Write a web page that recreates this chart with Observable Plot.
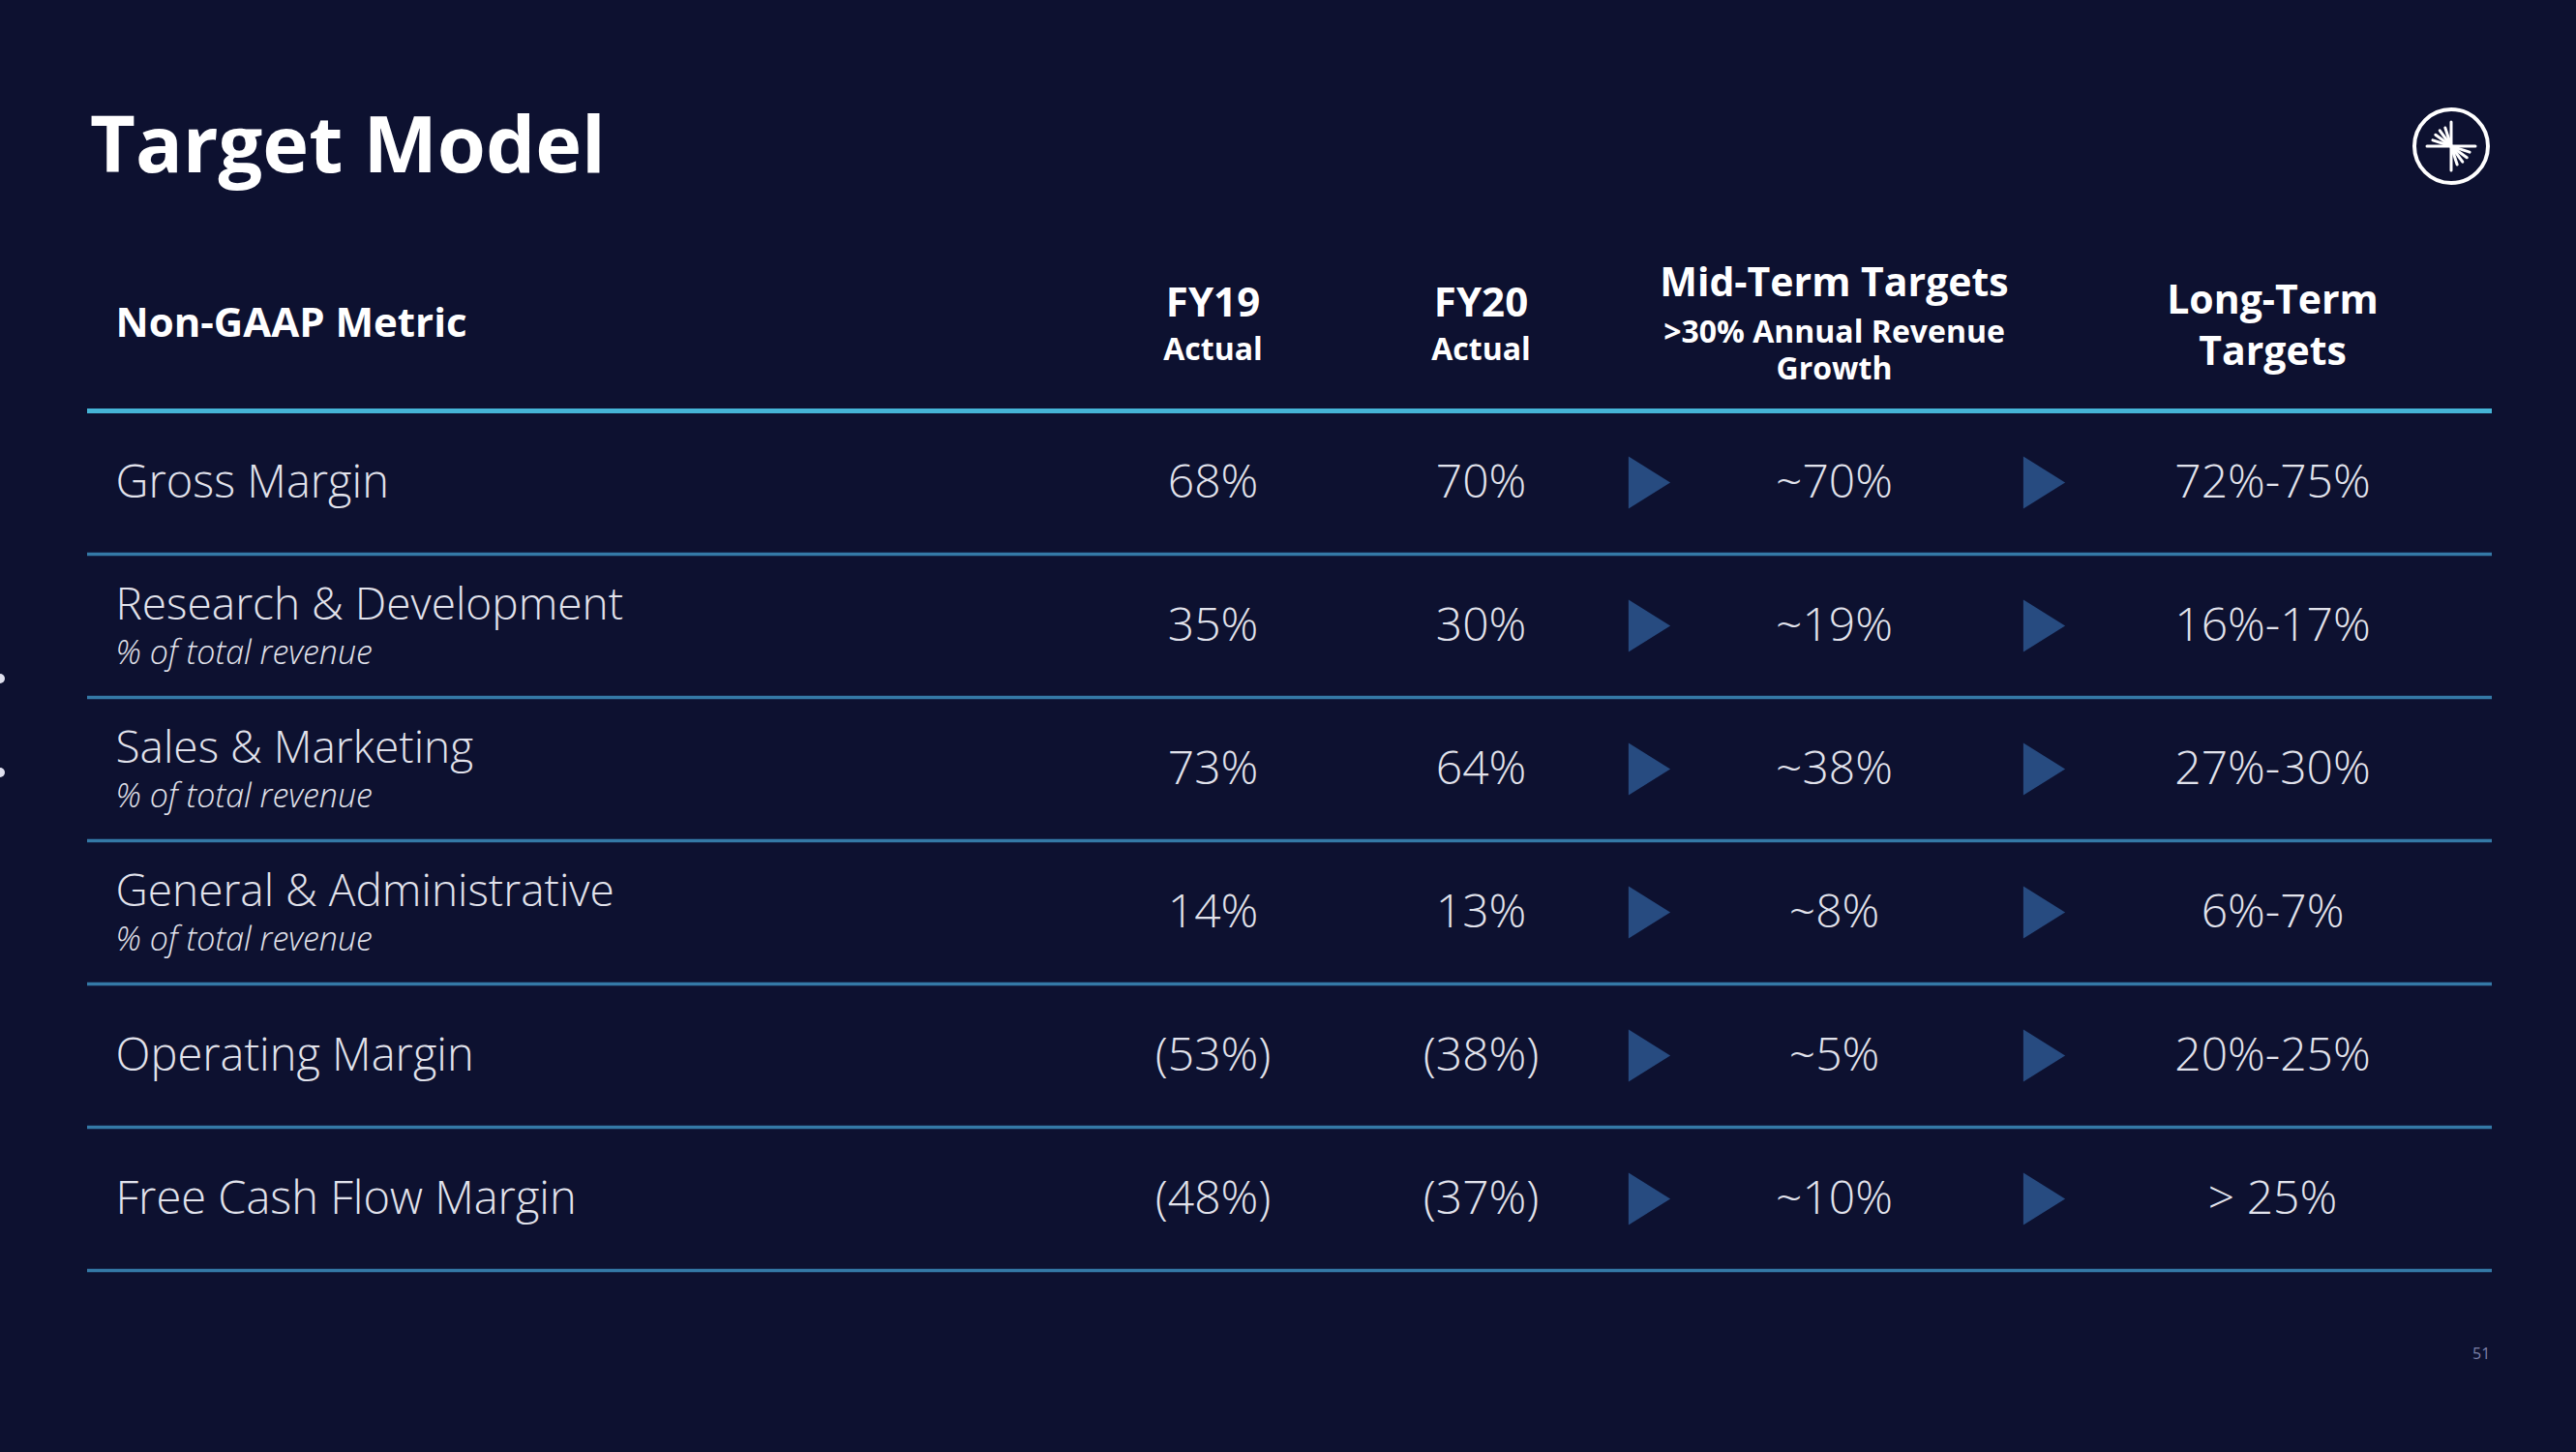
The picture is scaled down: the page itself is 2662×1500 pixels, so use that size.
<!DOCTYPE html>
<html><head><meta charset="utf-8">
<script src="https://cdn.jsdelivr.net/npm/d3@7"></script>
<script src="https://cdn.jsdelivr.net/npm/@observablehq/plot@0.6"></script>
<style>
html,body{margin:0;padding:0;background:#0d1130;}
#page{position:relative;width:2662px;height:1500px;overflow:hidden;background:#0d1130;font-family:"Open Sans",Lato,sans-serif;}
#header{position:relative;height:250px;}
#title{position:absolute;left:93px;top:106px;margin:0;font-size:81px;line-height:81px;font-weight:700;color:#fff;}
#logo{position:absolute;left:2488px;top:106px;}
#pagenum{position:absolute;left:2555px;top:1387px;font-size:16px;color:#7d82a8;}
.edge{position:absolute;left:-5px;width:10px;height:10px;border-radius:50%;background:#dfe0ee;}
</style></head>
<body>
<div id="page">
  <div id="header"><h1 id="title">Target Model</h1><svg id="logo" width="90" height="90"></svg></div>
  <div id="chart"></div>
  <div id="pagenum">51</div>
  <div class="edge" style="top:696px"></div>
  <div class="edge" style="top:793px"></div>
</div>
<script>
// ---- data ----
const columns = ["Non-GAAP Metric", "FY19", "FY20", "arrowA", "Mid-Term Targets", "arrowB", "Long-Term Targets"];
const headerTitles = ["Non-GAAP Metric", "FY19", "FY20", "Mid-Term Targets", "Long-Term\nTargets"];
const headerColumns = ["Non-GAAP Metric", "FY19", "FY20", "Mid-Term Targets", "Long-Term Targets"];
const headerSubs = ["", "Actual", "Actual", ">30% Annual Revenue\nGrowth", ""];
const metrics = ["Gross Margin", "Research & Development", "Sales & Marketing", "General & Administrative", "Operating Margin", "Free Cash Flow Margin"];
const subLabels = ["", "% of total revenue", "% of total revenue", "% of total revenue", "", ""];
const fy19 = ["68%", "35%", "73%", "14%", "(53%)", "(48%)"];
const fy20 = ["70%", "30%", "64%", "13%", "(38%)", "(37%)"];
const midTerm = ["~70%", "~19%", "~38%", "~8%", "~5%", "~10%"];
const longTerm = ["72%-75%", "16%-17%", "27%-30%", "6%-7%", "20%-25%", "> 25%"];
const arrowColumns = ["arrowA", "arrowB"];

// ---- column layout scale (table column centres / label start) ----
const colScale = d3.scaleOrdinal().domain(columns).range([119, 1253, 1530, 1704, 1895, 2112, 2348]);

// ---- derived tables ----
const rows = metrics.map((m, i) => ({row: i + 1, col: columns[0], metric: m, sub: subLabels[i]}));
const cells = [];
metrics.forEach((m, i) => {
  [["FY19", fy19], ["FY20", fy20], ["Mid-Term Targets", midTerm], ["Long-Term Targets", longTerm]]
    .forEach(([c, arr]) => cells.push({row: i + 1, col: c, text: arr[i]}));
});
const arrows = [];
metrics.forEach((m, i) => arrowColumns.forEach(c => arrows.push({row: i + 1, col: c})));
const header = headerTitles.map((t, i) => ({row: 0, col: headerColumns[i], title: t, sub: headerSubs[i]}));
const headerMetric = header.filter(d => d.col === columns[0]);
const headerTwoPart = header.filter(d => d.sub.length && !d.sub.includes("\n"));
const headerMid = header.filter(d => d.sub.includes("\n"));
const headerLong = header.filter(d => d.col !== columns[0] && !d.sub.length);
const boundaries = d3.range(0, metrics.length + 1).map(i => i + 0.5);

const rightTriangle = {
  draw(context, size) {
    const r = Math.sqrt(size / Math.PI);
    context.moveTo(-0.8 * r, -r);
    context.lineTo(0.8 * r, 0);
    context.lineTo(-0.8 * r, r);
    context.closePath();
  }
};

const light = "#e2e3ec";
const bold = "#ffffff";
const X = d => colScale(d.col);

const plot = Plot.plot({
  width: 2662,
  height: 1250,
  marginLeft: 90,
  marginRight: 87,
  marginTop: 0,
  marginBottom: 0,
  style: {background: "transparent", fontFamily: "'Open Sans', Lato, sans-serif", overflow: "visible"},
  x: {type: "identity", axis: null},
  y: {domain: [0.5, 6.5], range: [174, 1062], axis: null},
  marks: [
    Plot.ruleY(boundaries.slice(0, 1), {y: d => d, stroke: "#45b4d6", strokeWidth: 5}),
    Plot.ruleY(boundaries.slice(1), {y: d => d, stroke: "#3479a6", strokeWidth: 3.5}),
    // header
    Plot.text(headerMetric, {x: X, y: "row", text: "title", textAnchor: "start", dy: -16, fontSize: 42, fontWeight: 700, fill: bold}),
    Plot.text(headerTwoPart, {x: X, y: "row", text: "title", dy: -37, fontSize: 42, fontWeight: 700, fill: bold}),
    Plot.text(headerTwoPart, {x: X, y: "row", text: "sub", dy: 11, fontSize: 32, fontWeight: 700, fill: bold}),
    Plot.text(headerMid, {x: X, y: "row", text: "title", dy: -58, fontSize: 41, fontWeight: 700, fill: bold}),
    Plot.text(headerMid, {x: X, y: "row", text: "sub", dy: 10, fontSize: 32, lineHeight: 1.2, fontWeight: 700, fill: bold}),
    Plot.text(headerLong, {x: X, y: "row", text: "title", dy: -17, fontSize: 41, lineHeight: 1.3, fontWeight: 700, fill: bold}),
    // row labels
    Plot.text(rows.filter(d => !d.sub), {x: X, y: "row", text: "metric", textAnchor: "start", fontSize: 47, fontWeight: 300, fill: light}),
    Plot.text(rows.filter(d => d.sub), {x: X, y: "row", text: "metric", textAnchor: "start", dy: -21, fontSize: 46, fontWeight: 300, fill: light}),
    Plot.text(rows.filter(d => d.sub), {x: X, y: "row", text: "sub", textAnchor: "start", dy: 29, fontSize: 34, fontWeight: 300, fontStyle: "italic", fill: light}),
    // values
    Plot.text(cells, {x: X, y: "row", text: "text", fontSize: 48, fontWeight: 300, fill: light}),
    // arrows
    Plot.dot(arrows, {x: X, y: "row", r: 27, symbol: rightTriangle, fill: "#274b80", stroke: "none"})
  ]
});
document.getElementById("chart").appendChild(plot);

// logo
const logo = d3.select("#logo");
logo.append("circle").attr("cx", 45).attr("cy", 45).attr("r", 38).attr("fill", "none").attr("stroke", "#fff").attr("stroke-width", 4);
const rays = [180, 198, 216, 234, 252, 270, 0, 18, 36, 54, 72, 90];
rays.forEach(a => {
  const rad = a * Math.PI / 180;
  const len = (a % 90 === 0) ? 25 : 20;
  logo.append("line").attr("x1", 45).attr("y1", 45)
    .attr("x2", 45 + len * Math.cos(rad)).attr("y2", 45 + len * Math.sin(rad))
    .attr("stroke", "#fff").attr("stroke-width", 3).attr("stroke-linecap", "round");
});
</script>
</body></html>
